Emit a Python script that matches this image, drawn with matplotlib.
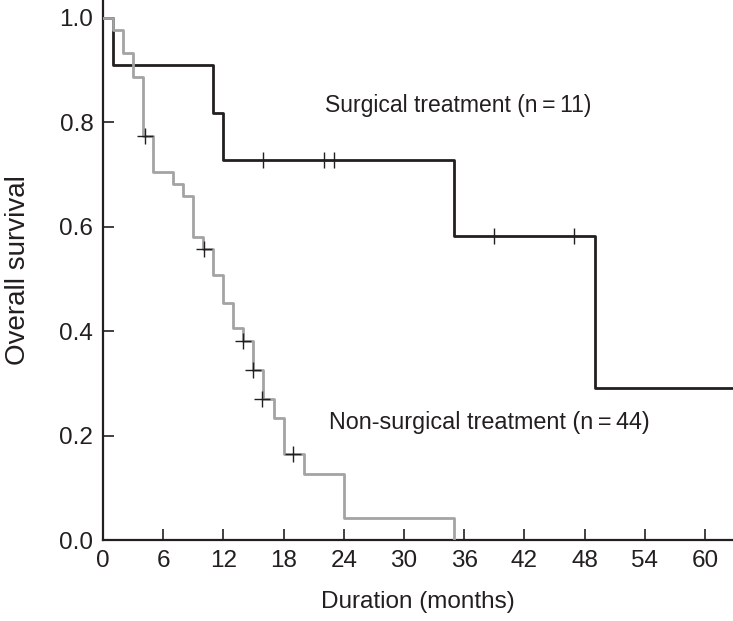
import matplotlib
matplotlib.use("Agg")
import matplotlib.pyplot as plt

plt.rcParams['font.family'] = ['Liberation Sans', 'DejaVu Sans']

# Surgical treatment (n = 11): step times and survival
surg_t = [0, 1, 11, 12, 35, 49, 62.8]
surg_s = [1.0, 0.909, 0.818, 0.727, 0.582, 0.291, 0.291]
surg_cens_t = [16, 22, 23, 39, 47]
surg_cens_s = [0.727, 0.727, 0.727, 0.582, 0.582]

# Non-surgical treatment (n = 44)
non_t = [0, 1, 2, 3, 4, 5, 7, 8, 9, 10, 11, 12, 13, 14, 15, 16, 17, 18, 20, 24, 35]
non_s = [1.0, 0.977, 0.932, 0.886, 0.773, 0.705, 0.682, 0.659, 0.580, 0.557, 0.508,
         0.454, 0.407, 0.381, 0.326, 0.270, 0.234, 0.166, 0.127, 0.042, 0.0]
non_cens_t = [4.2, 10.1, 14.0, 15.0, 15.9, 18.9]
non_cens_s = [0.773, 0.557, 0.381, 0.326, 0.270, 0.166]

xticks = [0, 6, 12, 18, 24, 30, 36, 42, 48, 54, 60]
yticks = [0.0, 0.2, 0.4, 0.6, 0.8, 1.0]

fig = plt.figure(figsize=(7.33, 6.21), dpi=100)
ax = fig.add_axes([0.1405, 0.130, 0.8595, 0.870])

ax.plot(surg_t, surg_s, drawstyle='steps-post', color='#231f20', lw=2.0, zorder=2)
ax.plot(surg_cens_t, surg_cens_s, '|', color='#231f20', ms=11, mew=1.0, zorder=4)

ax.plot(non_t, non_s, drawstyle='steps-post', color='#a3a3a3', lw=2.0, zorder=3)
ax.plot(non_cens_t, non_cens_s, '+', color='#231f20', ms=11, mew=1.0, zorder=4)

ax.text(22.1, 0.833, 'Surgical treatment (n\u2009=\u200911)', fontsize=16.5,
        color='#231f20', va='center', ha='left')
ax.text(22.5, 0.226, 'Non-surgical treatment (n\u2009=\u200944)', fontsize=16.8,
        color='#231f20', va='center', ha='left')

ax.set_xlim(0, 62.8)
ax.set_ylim(0, 1.034)
ax.set_xticks(xticks)
ax.set_yticks(yticks)
ax.set_xticklabels([str(v) for v in xticks])
ax.set_yticklabels(['%.1f' % v for v in yticks])
ax.tick_params(direction='in', length=8, width=1.2, labelsize=17.5,
               colors='#231f20', pad=7)

for side in ['top', 'right']:
    ax.spines[side].set_visible(False)
for side in ['left', 'bottom']:
    ax.spines[side].set_linewidth(1.6)
    ax.spines[side].set_color('#231f20')

ax.set_xlabel('Duration (months)', fontsize=17.5, color='#231f20', labelpad=14)
ax.set_ylabel('Overall survival', fontsize=20, color='#231f20', labelpad=20)

fig.savefig('out.png', dpi=100)
